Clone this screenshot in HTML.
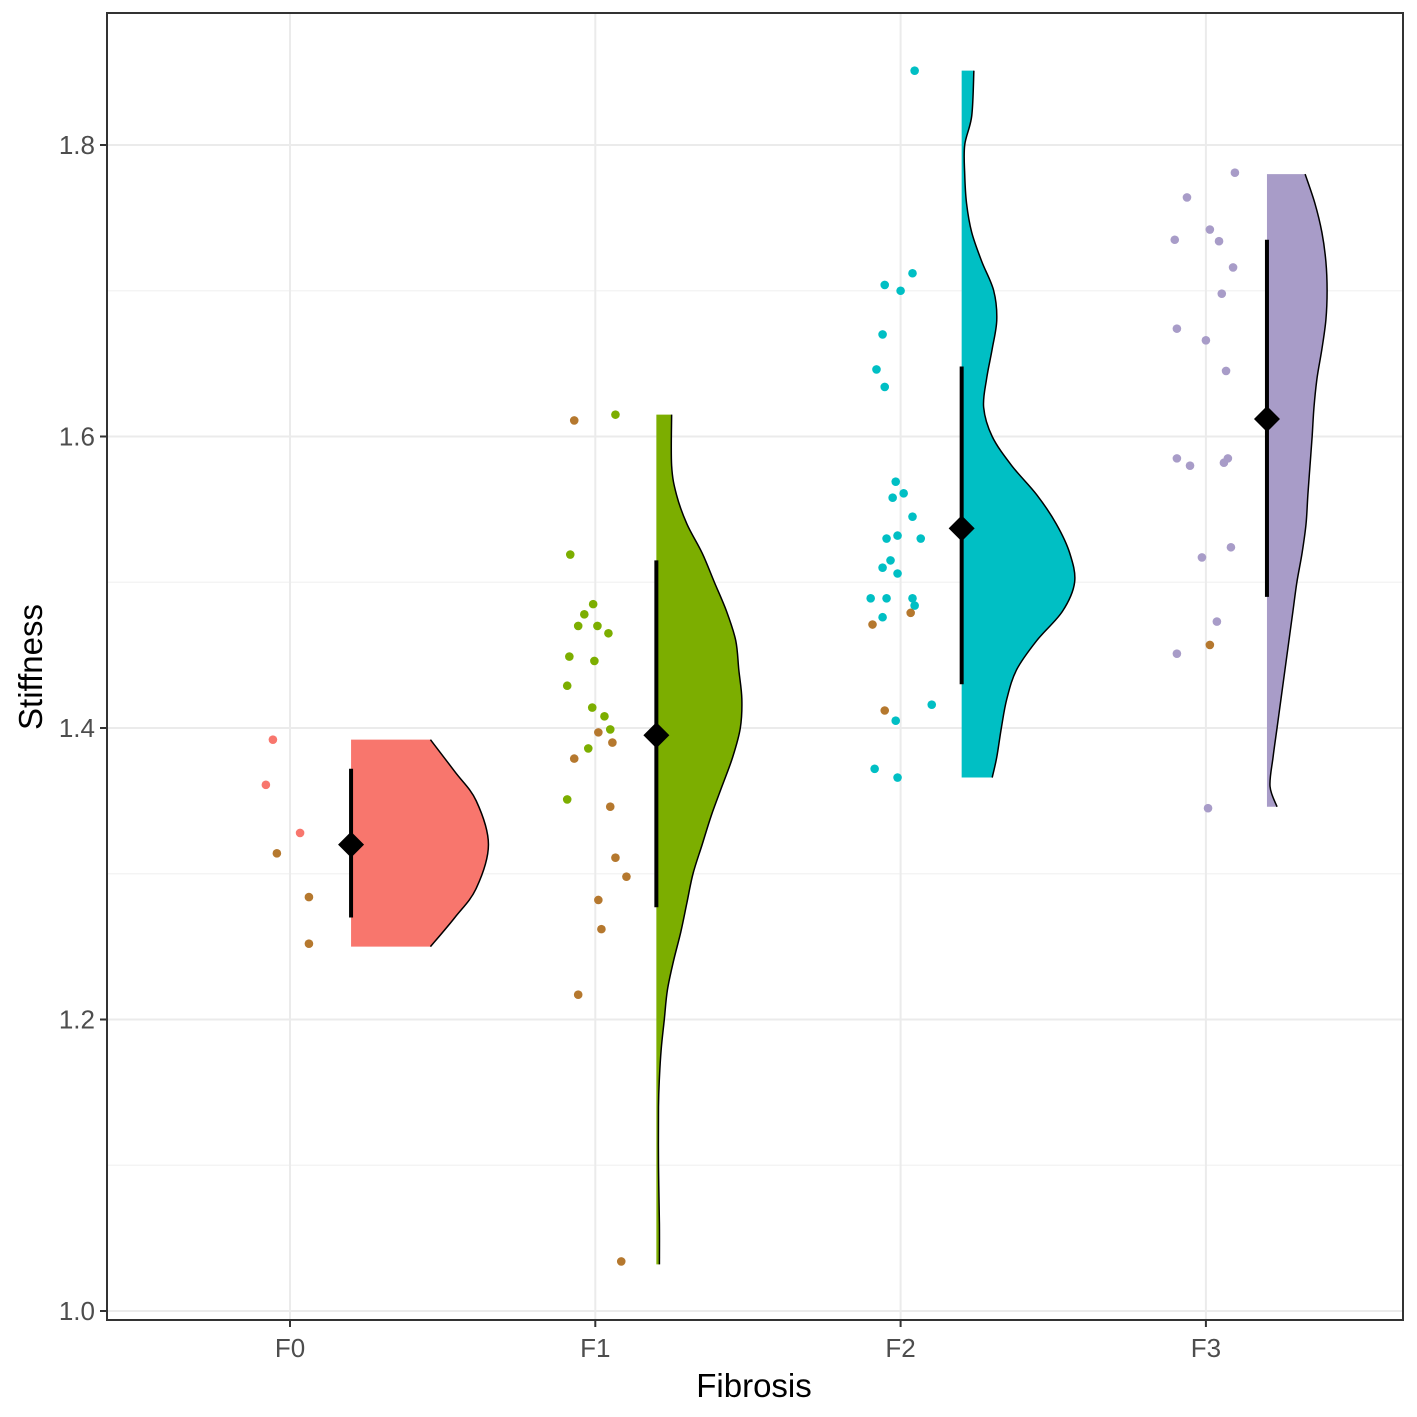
<!DOCTYPE html>
<html><head><meta charset="utf-8"><style>body{margin:0;background:#fff}svg{display:block;font-family:"Liberation Sans",sans-serif}</style></head>
<body>
<svg id="chart" width="1417" height="1417" viewBox="0 0 1417 1417"></svg>
<script>
const categories=["F0","F1","F2","F3"];
const colors=["#F8766D","#7CAE00","#00BFC4","#A89CC8"];
const yTicks=[1.0,1.2,1.4,1.6,1.8];
const yTickLabels=["1.0","1.2","1.4","1.6","1.8"];
const meanVals=[1.320,1.395,1.537,1.612];
const lowVals=[1.270,1.277,1.430,1.490];
const highVals=[1.372,1.515,1.648,1.735];
const dens0=[[1.392,0.26],[1.37,0.34],[1.35,0.41],[1.32,0.45],[1.29,0.41],[1.27,0.34],[1.25,0.26]];
const dens1=[[1.615,0.05],[1.58,0.05],[1.56,0.066],[1.54,0.1],[1.52,0.15],[1.50,0.19],[1.48,0.23],[1.46,0.26],[1.44,0.27],[1.42,0.28],[1.40,0.275],[1.38,0.25],[1.36,0.215],[1.34,0.18],[1.32,0.15],[1.30,0.12],[1.28,0.1],[1.26,0.08],[1.24,0.056],[1.22,0.036],[1.20,0.026],[1.18,0.016],[1.16,0.01],[1.14,0.007],[1.10,0.007],[1.06,0.01],[1.032,0.01]];
const dens2=[[1.851,0.04],[1.82,0.033],[1.80,0.01],[1.78,0.01],[1.76,0.016],[1.74,0.033],[1.72,0.066],[1.70,0.105],[1.68,0.115],[1.66,0.1],[1.64,0.082],[1.62,0.072],[1.60,0.1],[1.58,0.164],[1.56,0.246],[1.54,0.31],[1.52,0.354],[1.50,0.37],[1.48,0.33],[1.46,0.246],[1.44,0.18],[1.42,0.148],[1.40,0.13],[1.38,0.115],[1.366,0.1]];
const dens3=[[1.78,0.125],[1.76,0.157],[1.74,0.18],[1.72,0.193],[1.70,0.197],[1.68,0.193],[1.66,0.18],[1.64,0.164],[1.62,0.154],[1.60,0.148],[1.58,0.141],[1.56,0.134],[1.54,0.128],[1.52,0.115],[1.50,0.098],[1.48,0.085],[1.46,0.072],[1.44,0.059],[1.42,0.046],[1.40,0.033],[1.38,0.02],[1.36,0.01],[1.346,0.033]];
const densities=[dens0,dens1,dens2,dens3];
const pts0=[[-0.056,1.392,0],[-0.079,1.361,0],[0.033,1.328,0],[-0.043,1.314,1],[0.062,1.284,1],[0.062,1.252,1]];
const pts1=[[-0.082,1.519,0],[-0.007,1.485,0],[-0.036,1.478,0],[-0.056,1.470,0],[0.007,1.470,0],[0.043,1.465,0],[-0.085,1.449,0],[-0.003,1.446,0],[-0.092,1.429,0],[-0.01,1.414,0],[0.03,1.408,0],[0.049,1.399,0],[-0.023,1.386,0],[-0.092,1.351,0],[-0.069,1.611,1],[0.066,1.615,0],[0.01,1.397,1],[0.056,1.390,1],[-0.069,1.379,1],[0.049,1.346,1],[0.066,1.311,1],[0.102,1.298,1],[0.01,1.282,1],[0.02,1.262,1],[-0.056,1.217,1],[0.085,1.034,1]];
const pts2=[[0.046,1.851,0],[0.039,1.712,0],[-0.052,1.704,0],[0,1.700,0],[-0.059,1.670,0],[-0.079,1.646,0],[-0.052,1.634,0],[-0.016,1.569,0],[0.01,1.561,0],[-0.026,1.558,0],[0.039,1.545,0],[-0.01,1.532,0],[-0.046,1.530,0],[0.066,1.530,0],[-0.033,1.515,0],[-0.059,1.510,0],[-0.01,1.506,0],[-0.098,1.489,0],[-0.046,1.489,0],[0.039,1.489,0],[0.046,1.484,0],[-0.059,1.476,0],[0.102,1.416,0],[-0.016,1.405,0],[-0.085,1.372,0],[-0.01,1.366,0],[-0.092,1.471,1],[0.033,1.479,1],[-0.052,1.412,1]];
const pts3=[[0.095,1.781,0],[-0.062,1.764,0],[0.013,1.742,0],[-0.102,1.735,0],[0.043,1.734,0],[0.089,1.716,0],[0.052,1.698,0],[-0.095,1.674,0],[0,1.666,0],[0.066,1.645,0],[-0.095,1.585,0],[0.072,1.585,0],[-0.052,1.580,0],[0.059,1.582,0],[0.082,1.524,0],[-0.013,1.517,0],[0.036,1.473,0],[-0.095,1.451,0],[0.007,1.345,0],[0.013,1.457,1]];
const points=[pts0,pts1,pts2,pts3];
const altColor="#B5782E";

const NS="http://www.w3.org/2000/svg";
const svg=document.getElementById('chart');
const L=107,R=1403,T=13,B=1320;
const xS=i=>290+i*305.3;
const xU=u=>u*305.3;
const yS=v=>1311-(v-1.0)*1457.5;
function mk(tag,attrs,parent){const e=document.createElementNS(NS,tag);for(const k in attrs)e.setAttribute(k,attrs[k]);(parent||svg).appendChild(e);return e;}
function smooth(P){let s='';for(let i=0;i<P.length-1;i++){const p0=P[Math.max(0,i-1)],p1=P[i],p2=P[i+1],p3=P[Math.min(P.length-1,i+2)];
const c1=[p1[0]+(p2[0]-p0[0])/6,p1[1]+(p2[1]-p0[1])/6],c2=[p2[0]-(p3[0]-p1[0])/6,p2[1]-(p3[1]-p1[1])/6];
s+=` C${c1[0]},${c1[1]} ${c2[0]},${c2[1]} ${p2[0]},${p2[1]}`;}return s;}

const grid=mk('g',{});


for(let i=0;i<yTicks.length-1;i++){const m=(yTicks[i]+yTicks[i+1])/2;const g=mk('line',{x1:L,x2:R,y1:yS(m),y2:yS(m),stroke:'#f3f3f3','stroke-width':1.3},grid);}
yTicks.forEach(v=>{const g=mk('line',{x1:L,x2:R,y1:yS(v),y2:yS(v),stroke:'#ebebeb','stroke-width':2},grid);});
categories.forEach((c,i)=>{const g=mk('line',{x1:xS(i),x2:xS(i),y1:T,y2:B,stroke:'#ebebeb','stroke-width':2},grid);});

categories.forEach((c,i)=>{
  const d=densities[i];const x0=xS(i+0.2);
  const P=d.map(q=>[x0+xU(q[1]),yS(q[0])]);
  const curve='M'+P[0][0]+','+P[0][1]+smooth(P);
  const p='M'+x0+','+P[0][1]+' L'+P[0][0]+','+P[0][1]+smooth(P)+' L'+x0+','+P[P.length-1][1]+' Z';
  const v=mk('path',{d:p,fill:colors[i]});
  
  
  const o=mk('path',{d:curve,fill:'none',stroke:'#000','stroke-width':1.5});
  
  
  points[i].forEach(pt=>{
    const ci=mk('circle',{cx:xS(i)+xU(pt[0]),cy:yS(pt[1]),r:4.3,fill:pt[2]?altColor:colors[i]});
    
    
  });
  const ln=mk('line',{x1:x0,x2:x0,y1:yS(lowVals[i]),y2:yS(highVals[i]),stroke:'#000','stroke-width':4});
  
  
  const mx=x0,my=yS(meanVals[i]);
  const dm=mk('path',{d:`M${mx-13},${my} L${mx},${my-13} L${mx+13},${my} L${mx},${my+13} Z`,fill:'#000'});
  
  
  const tk=mk('line',{x1:xS(i),x2:xS(i),y1:B,y2:B+7,stroke:'#333','stroke-width':2});
  
  
  const t=mk('text',{x:xS(i),y:1357,'text-anchor':'middle','font-size':26,fill:'#4d4d4d'});
  t.textContent=c;
  
  
});
yTicks.forEach((v,i)=>{
  const tk=mk('line',{x1:L-7,x2:L,y1:yS(v),y2:yS(v),stroke:'#333','stroke-width':2});
  
  
  const t=mk('text',{x:L-12,y:yS(v)+9,'text-anchor':'end','font-size':26,fill:'#4d4d4d'});
  t.textContent=yTickLabels[i];
  
  
});
const fr=mk('rect',{x:L,y:T,width:R-L,height:B-T,fill:'none',stroke:'#333','stroke-width':2});


const xt=mk('text',{x:754,y:1397,'text-anchor':'middle','font-size':33,fill:'#000'});
xt.textContent='Fibrosis';


const yt=mk('text',{x:0,y:0,transform:'translate(42,667) rotate(-90)','text-anchor':'middle','font-size':33,fill:'#000'});
yt.textContent='Stiffness';


</script>
</body></html>
